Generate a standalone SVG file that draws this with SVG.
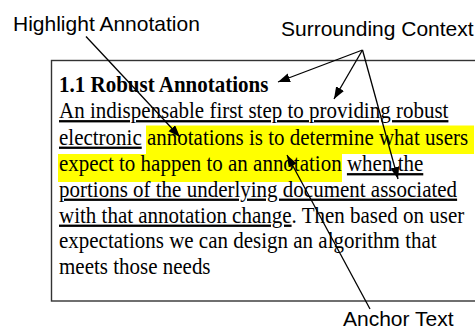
<svg xmlns="http://www.w3.org/2000/svg" width="475" height="331" viewBox="0 0 475 331">
  <style>
    .label { font-family: "Liberation Sans", Arial, sans-serif; font-size: 21px; fill: #000; }
    .body { font-family: "Liberation Serif", "Times New Roman", serif; font-size: 21px; fill: #000; }
    .title { font-weight: bold; }
    .u { text-decoration: underline; }
    .hl { fill: #ffff00; }
    .frame { fill: #fff; stroke: #333; stroke-width: 1.4; }
    .conn { fill: none; stroke: #000; stroke-width: 1.3; marker-end: url(#head); }
  </style>
  <defs>
    <marker id="head" markerUnits="userSpaceOnUse" markerWidth="13" markerHeight="10" refX="12" refY="4.5" orient="auto">
      <path d="M0,0 L12,4.5 L0,9 Z" fill="#000"/>
    </marker>
  </defs>

  <rect width="475" height="331" fill="#fff"/>

  <!-- document excerpt; serif lines are set slightly tall -->
  <g id="document">
    <rect class="frame" x="51.5" y="60.5" width="430" height="240.5"/>
    <rect class="hl" x="146" y="125.5" width="328" height="28.5"/>
    <rect class="hl" x="58" y="154" width="284" height="28"/>
    <text class="body title" transform="translate(59 92) scale(1 1.1)">1.1 Robust Annotations</text>
    <text class="body" transform="translate(59 118) scale(1 1.1)"><tspan class="u">An indispensable first step to providing robust</tspan></text>
    <text class="body" transform="translate(59 144.5) scale(1 1.1)"><tspan class="u">electronic</tspan> annotations is to determine what users</text>
    <text class="body" transform="translate(59 171) scale(1 1.1)">expect to happen to an annotation <tspan class="u">when the</tspan></text>
    <text class="body" transform="translate(59 196.5) scale(1 1.1)"><tspan class="u">portions of the underlying document associated</tspan></text>
    <text class="body" transform="translate(59 222.5) scale(1 1.1)"><tspan class="u">with that annotation change</tspan>. Then based on user</text>
    <text class="body" transform="translate(59 248) scale(1 1.1)">expectations we can design an algorithm that</text>
    <text class="body" transform="translate(59 273.5) scale(1 1.1)">meets those needs</text>
  </g>

  <g id="label-highlight">
    <text class="label" x="13" y="31">Highlight Annotation</text>
  </g>
  <g id="label-context">
    <text class="label" x="281" y="36">Surrounding Context</text>
  </g>
  <g id="label-anchor">
    <text class="label" x="343" y="326">Anchor Text</text>
  </g>

  <g id="connectors">
    <line class="conn" x1="86" y1="36.5" x2="180" y2="137"/>
    <line class="conn" x1="362.5" y1="50" x2="278" y2="82"/>
    <line class="conn" x1="362.5" y1="50" x2="334" y2="99"/>
    <line class="conn" x1="362.5" y1="50" x2="398" y2="179"/>
    <line class="conn" x1="370" y1="309" x2="287" y2="155"/>
  </g>
</svg>
